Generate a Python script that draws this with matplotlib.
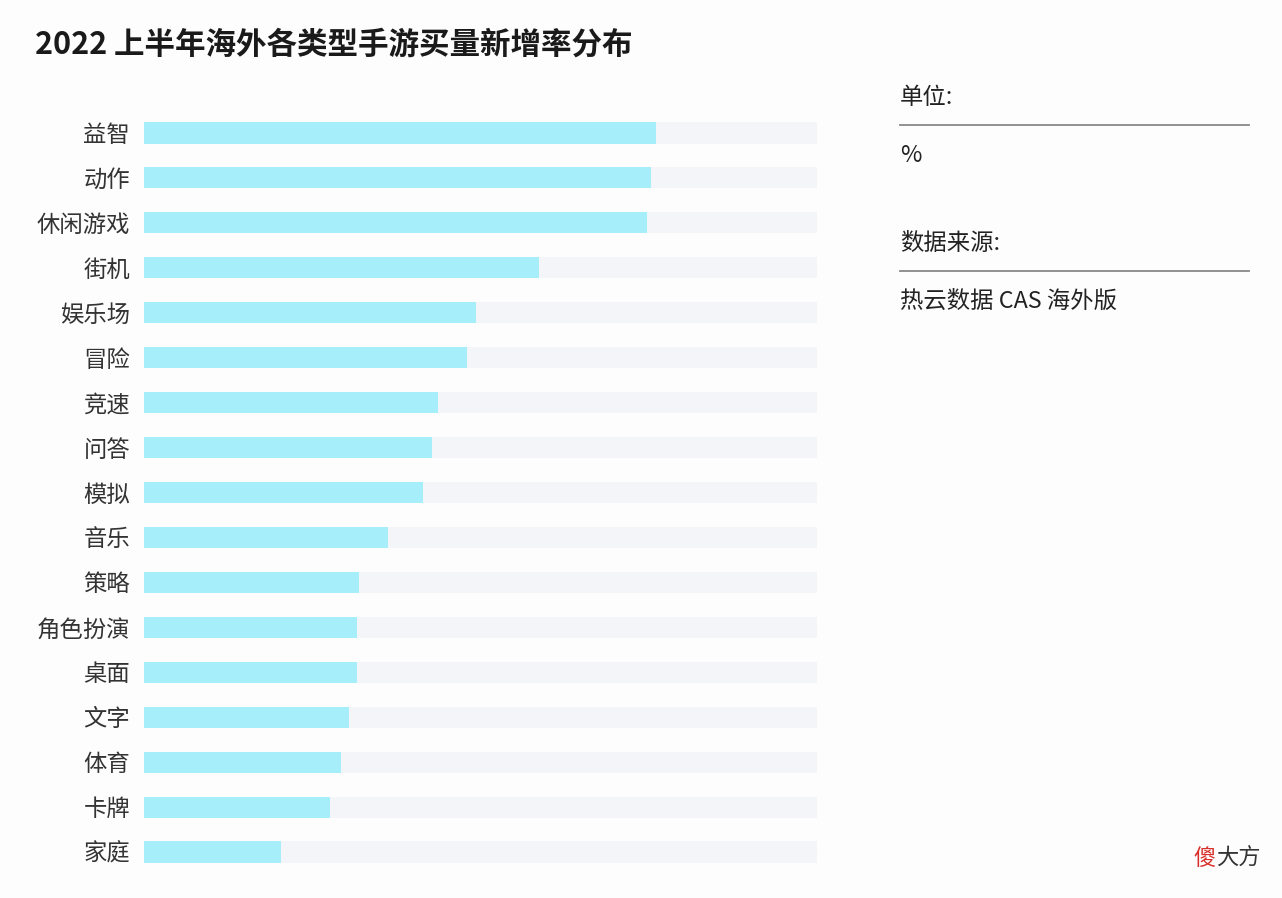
import matplotlib.pyplot as plt
import numpy as np

plt.rcParams['font.family'] = ['Noto Sans CJK SC', 'DejaVu Sans']

categories = ["益智", "动作", "休闲游戏", "街机", "娱乐场", "冒险", "竞速", "问答", "模拟",
              "音乐", "策略", "角色扮演", "桌面", "文字", "体育", "卡牌", "家庭"]
values = [76.1, 75.3, 74.7, 58.7, 49.3, 48.0, 43.7, 42.8, 41.5,
          36.3, 31.9, 31.6, 31.6, 30.5, 29.3, 27.6, 20.4]
full_scale = 100

bg = "#fdfdfe"
fig = plt.figure(figsize=(12.82, 8.98), dpi=100, facecolor=bg)
ax = fig.add_axes([144 / 1282, 1 - 874.5 / 898, 673 / 1282, 764 / 898])
ax.set_facecolor(bg)

y = np.arange(len(categories))
ax.barh(y, [full_scale] * len(categories), height=0.47, color="#f4f5f9", zorder=1)
ax.barh(y, values, height=0.47, color="#a6eef9", zorder=2)

ax.set_xlim(0, full_scale)
ax.set_ylim(len(categories) - 0.5, -0.5)
ax.set_yticks(y)
ax.set_yticklabels(categories, fontsize=16.8, color="#333333")
ax.tick_params(axis="y", length=0, pad=10)
ax.set_xticks([])
for s in ax.spines.values():
    s.set_visible(False)

fig.text(35 / 1282, 1 - 45 / 898, "2022 上半年海外各类型手游买量新增率分布",
         fontsize=22, fontweight="bold", color="#1a1a1a", va="center", ha="left")

# right-side info panel
txt = dict(fontsize=16.8, color="#222222", va="center", ha="left")
fig.text(900 / 1282, 1 - 97 / 898, "单位:", **txt)
fig.text(900 / 1282, 1 - 155 / 898, "%", **txt)
fig.text(900 / 1282, 1 - 243 / 898, "数据来源:", **txt)
fig.text(900 / 1282, 1 - 301 / 898, "热云数据 CAS 海外版", **txt)
for ly in (125, 271):
    fig.add_artist(plt.Line2D([900 / 1282, 1249 / 1282], [1 - ly / 898, 1 - ly / 898],
                              color="#888888", linewidth=1.3))

# watermark
fig.text(1193 / 1282, 1 - 858 / 898, "傻", fontsize=16, color="#d9302b", va="center", ha="left")
fig.text(1216 / 1282, 1 - 858 / 898, "大方", fontsize=16, color="#333333", va="center", ha="left")

fig.savefig("out.png", dpi=100, facecolor=bg)
